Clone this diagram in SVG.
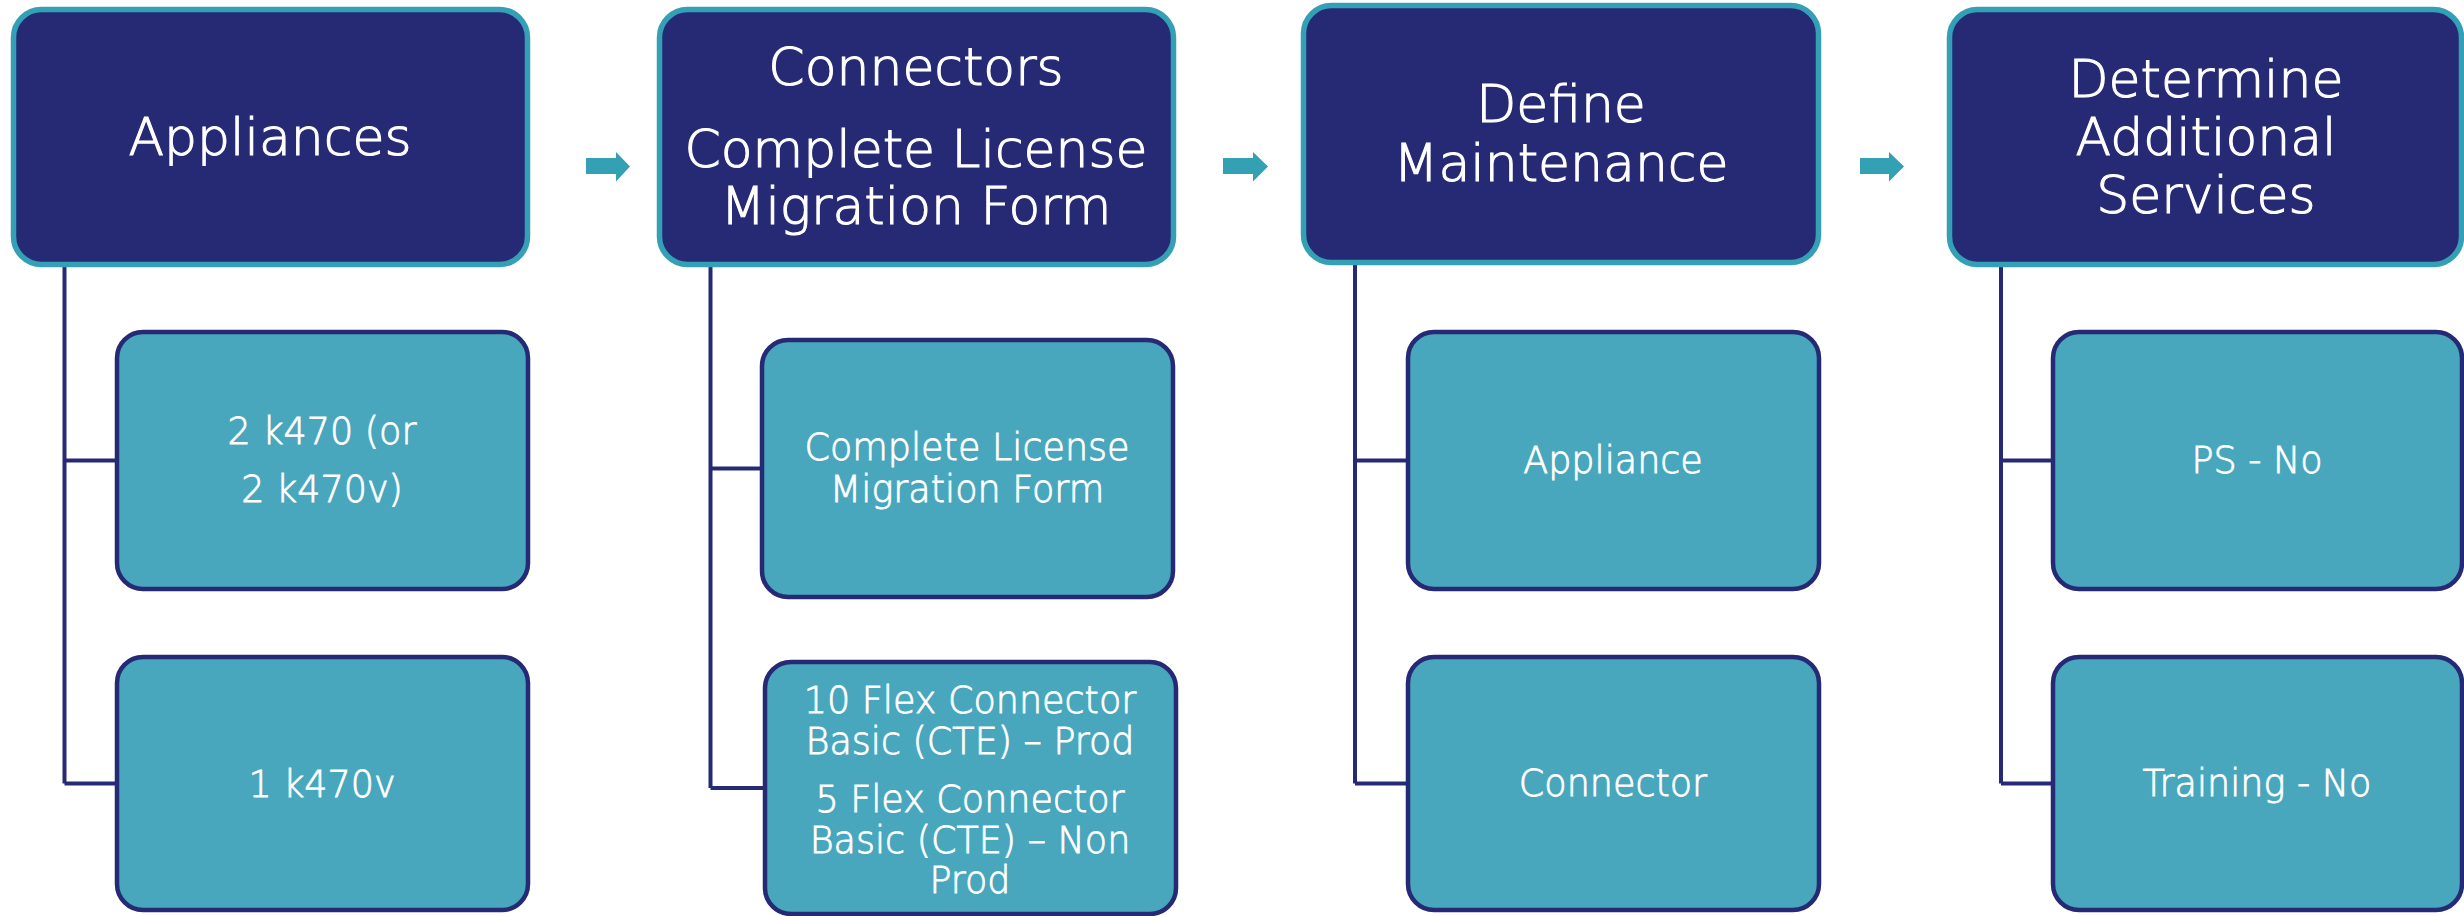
<svg xmlns="http://www.w3.org/2000/svg" width="2464" height="916" viewBox="0 0 2464 916">
<defs>
<style>
.title{fill:#262A74;stroke:#34A0B6;stroke-width:5.5}
.child{fill:#48A6BD;stroke:#262A74;stroke-width:4.5}
.conn{fill:none;stroke:#262A74;stroke-width:4;stroke-linejoin:miter}
.arrow{fill:#34A0B4}
text{font-family:"DejaVu Sans","Liberation Sans",sans-serif;font-weight:300;fill:#FFFFFF;stroke:#FFFFFF;text-anchor:middle}
.tt{font-size:52px;stroke-width:1.1}
.ct{font-size:36.5px;stroke-width:0.8}
</style>
</defs>
<rect width="2464" height="916" fill="#FFFFFF"/>
<g id="connectors">
<path class="conn" d="M64.5,267 V783.5 M64.5,460.5 H117 M64.5,783.5 H117"/>
<path class="conn" d="M710.5,267 V788 M710.5,468.5 H762 M710.5,788 H765"/>
<path class="conn" d="M1355,265 V783.5 M1355,460.5 H1408 M1355,783.5 H1408"/>
<path class="conn" d="M2001,267 V783.5 M2001,460.5 H2053 M2001,783.5 H2053"/>
<polygon class="arrow" points="586,158 616,158 616,152 630,166.5 616,181.5 616,174 586,174"/>
<polygon class="arrow" points="1223,158 1253,158 1253,152 1268,166.5 1253,181.5 1253,174 1223,174"/>
<polygon class="arrow" points="1860,158 1889,158 1889,152 1904,166.5 1889,181.5 1889,174 1860,174"/>
</g>
<g id="appliances">
<rect class="title" x="13.5" y="9.5" width="514" height="255" rx="28"/>
<text class="tt" x="270" y="155">Appliances</text>
</g>
<g id="connectors-title">
<rect class="title" x="659.5" y="9.5" width="514" height="255" rx="28"/>
<text class="tt" x="916" y="85">Connectors</text>
<text class="tt" x="916" y="167">Complete License</text>
<text class="tt" x="916" y="224">Migration Form</text>
</g>
<g id="define-maintenance">
<rect class="title" x="1303.5" y="5.5" width="515" height="257" rx="28"/>
<text class="tt" x="1561" y="122">Define</text>
<text class="tt" x="1561" y="181">Maintenance</text>
</g>
<g id="additional-services">
<rect class="title" x="1949.5" y="9.5" width="512" height="255" rx="28"/>
<text class="tt" x="2206" y="97">Determine</text>
<text class="tt" x="2206" y="155">Additional</text>
<text class="tt" x="2206" y="213">Services</text>
</g>
<g id="k470">
<rect class="child" x="117" y="332" width="411" height="257" rx="26"/>
<text class="ct" x="322" y="444">2 k470 (or</text>
<text class="ct" x="322" y="502">2 k470v)</text>
</g>
<g id="k470v">
<rect class="child" x="117" y="657" width="411" height="253" rx="26"/>
<text class="ct" x="322" y="797">1 k470v</text>
</g>
<g id="license-form">
<rect class="child" x="762" y="340" width="411" height="257" rx="26"/>
<text class="ct" x="967" y="460">Complete License</text>
<text class="ct" x="967" y="502">Migration Form</text>
</g>
<g id="flex-connectors">
<rect class="child" x="765" y="662" width="411" height="252" rx="26"/>
<text class="ct" x="970" y="713">10 Flex Connector</text>
<text class="ct" x="970" y="754">Basic (CTE) – Prod</text>
<text class="ct" x="970" y="812">5 Flex Connector</text>
<text class="ct" x="970" y="853">Basic (CTE) – Non</text>
<text class="ct" x="970" y="893">Prod</text>
</g>
<g id="appliance">
<rect class="child" x="1408" y="332" width="411" height="257" rx="26"/>
<text class="ct" x="1613" y="473">Appliance</text>
</g>
<g id="connector">
<rect class="child" x="1408" y="657" width="411" height="253" rx="26"/>
<text class="ct" x="1613" y="796">Connector</text>
</g>
<g id="ps">
<rect class="child" x="2053" y="332" width="409" height="257" rx="26"/>
<text class="ct" x="2257" y="473">PS - No</text>
</g>
<g id="training">
<rect class="child" x="2053" y="657" width="409" height="253" rx="26"/>
<text class="ct" x="2257" y="796">Training - No</text>
</g>
</svg>
